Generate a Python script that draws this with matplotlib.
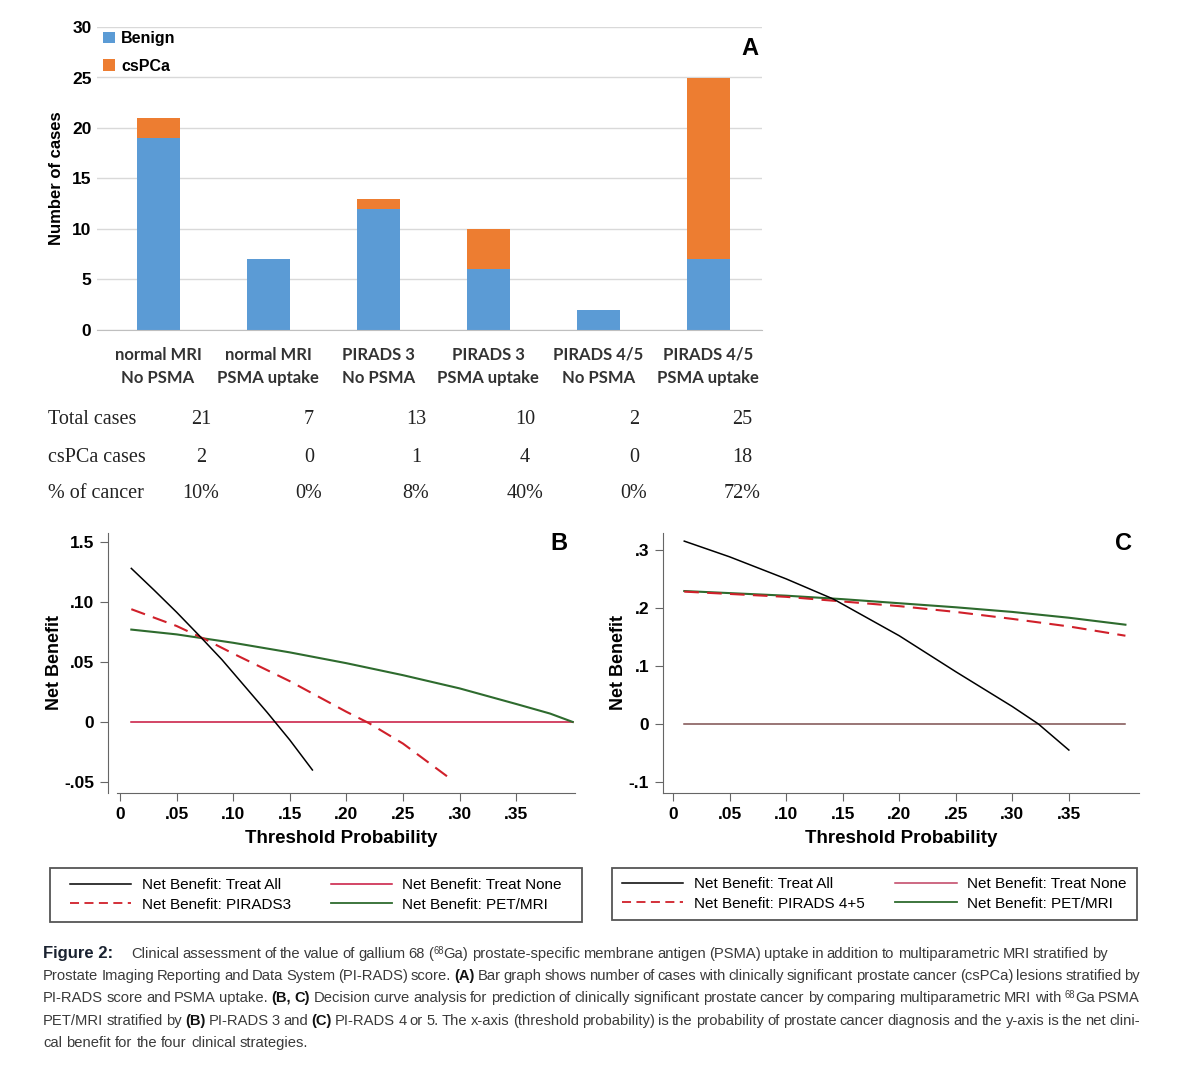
import matplotlib
matplotlib.use('Agg')
import matplotlib.pyplot as plt
from matplotlib.patches import Rectangle
from matplotlib.lines import Line2D
from matplotlib.font_manager import FontProperties

# ---- panel A data ----
categories = ['normal MRI\nNo PSMA', 'normal MRI\nPSMA uptake', 'PIRADS 3\nNo PSMA',
              'PIRADS 3\nPSMA uptake', 'PIRADS 4/5\nNo PSMA', 'PIRADS 4/5\nPSMA uptake']
benign = [19, 7, 12, 6, 2, 7]
cspca = [2, 0, 1, 4, 0, 18]

# ---- panel B data (PI-RADS 3) ----
b_all_x = [0.01, 0.03, 0.05, 0.07, 0.09, 0.11, 0.13, 0.15, 0.17]
b_all_y = [0.128, 0.110, 0.0915, 0.072, 0.052, 0.030, 0.008, -0.015, -0.040]
b_none_x = [0.01, 0.40]
b_none_y = [0.0, 0.0]
b_pirads_x = [0.01, 0.05, 0.075, 0.10, 0.15, 0.20, 0.22, 0.25, 0.29]
b_pirads_y = [0.094, 0.080, 0.069, 0.057, 0.034, 0.0085, -0.001, -0.018, -0.046]
b_pet_x = [0.01, 0.05, 0.10, 0.15, 0.20, 0.25, 0.30, 0.35, 0.38, 0.40]
b_pet_y = [0.077, 0.073, 0.066, 0.058, 0.049, 0.039, 0.028, 0.015, 0.007, 0.0]

# ---- panel C data (PI-RADS 4/5) ----
c_all_x = [0.01, 0.05, 0.10, 0.142, 0.20, 0.25, 0.30, 0.323, 0.35]
c_all_y = [0.315, 0.288, 0.250, 0.215, 0.152, 0.090, 0.030, 0.0, -0.045]
c_none_x = [0.01, 0.40]
c_none_y = [0.0, 0.0]
c_pirads_x = [0.01, 0.10, 0.15, 0.20, 0.25, 0.30, 0.35, 0.40]
c_pirads_y = [0.228, 0.219, 0.211, 0.203, 0.193, 0.181, 0.168, 0.152]
c_pet_x = [0.01, 0.10, 0.15, 0.20, 0.25, 0.30, 0.35, 0.40]
c_pet_y = [0.229, 0.221, 0.215, 0.208, 0.201, 0.193, 0.183, 0.171]

W, H = 1178, 1070
fig = plt.figure(figsize=(W / 100, H / 100), dpi=100)
fig.patch.set_facecolor('white')


def fx(px):
    return px / W


def fy(py):
    return 1 - py / H


BOLD = ['Liberation Sans', 'DejaVu Sans']
SANS = ['Liberation Sans', 'DejaVu Sans']
BLUE = '#5b9bd5'
ORANGE = '#ed7d31'

# ================= panel A =================
axA = fig.add_axes([fx(97), fy(330), fx(762) - fx(97), fy(27) - fy(330)])
pos = list(range(len(categories)))
axA.bar(pos, benign, width=0.39, color=BLUE, label='Benign', zorder=2)
axA.bar(pos, cspca, width=0.39, bottom=benign, color=ORANGE, label='csPCa', zorder=2)
axA.set_xlim(-0.555, 5.49)
axA.set_ylim(0, 30)
axA.set_yticks(range(0, 31, 5))
axA.yaxis.grid(True, color='#d9d9d9', lw=1)
axA.set_axisbelow(True)
for s in ['left', 'right', 'top']:
    axA.spines[s].set_visible(False)
axA.spines['bottom'].set_color('#bfbfbf')
axA.tick_params(axis='y', length=0, pad=4, labelsize=12.5)
axA.tick_params(axis='x', length=0, pad=12)
for lab in axA.get_yticklabels():
    lab.set_fontweight('bold')
    lab.set_family(BOLD)
axA.set_xticks(pos)
axA.set_xticklabels(categories, fontsize=12, fontweight='bold', family=['Lato', 'DejaVu Sans'],
                    color='#333333', linespacing=1.55)
axA.set_ylabel('Number of cases', fontsize=12, fontweight='bold', family=BOLD, labelpad=6)
axA.legend(loc='upper left', bbox_to_anchor=(-0.012, 1.035), frameon=False, handlelength=0.7,
           handleheight=0.7, handletextpad=0.4, labelspacing=0.8,
           prop={'family': BOLD, 'weight': 'bold', 'size': 11.5})
axA.text(0.995, 0.93, 'A', transform=axA.transAxes, fontsize=17, fontweight='bold',
         family=BOLD, ha='right', va='center')

# table under panel A
totals = [b + c for b, c in zip(benign, cspca)]
pct = ['%d%%' % round(100 * c / t) for c, t in zip(cspca, totals)]
rows = [('Total cases', [str(t) for t in totals]),
        ('csPCa cases', [str(c) for c in cspca]),
        ('% of cancer', pct)]
table_y = [419, 457, 494]
col_x = [201, 309, 416, 525, 634, 742]
SERIF = ['Liberation Serif', 'DejaVu Serif']
for (name, vals), yy in zip(rows, table_y):
    fig.text(fx(48), fy(yy), name, fontsize=14.5, family=SERIF,
             va='center', ha='left', color='#222222')
    for v, xx in zip(vals, col_x):
        fig.text(fx(xx), fy(yy), v, fontsize=14.5, family=SERIF,
                 va='center', ha='center', color='#222222')


# ================= decision curves =================
def style_dca(ax, yt, ylabels, xlim, ylim, letter):
    ax.set_xlim(*xlim)
    ax.set_ylim(*ylim)
    ax.spines['top'].set_visible(False)
    ax.spines['right'].set_visible(False)
    ax.spines['left'].set_color('#666666')
    ax.spines['bottom'].set_color('#666666')
    ax.set_xticks([0, 0.05, 0.10, 0.15, 0.20, 0.25, 0.30, 0.35])
    ax.set_xticklabels(['0', '.05', '.10', '.15', '.20', '.25', '.30', '.35'])
    ax.set_yticks(yt)
    ax.set_yticklabels(ylabels)
    ax.tick_params(length=6, color='#666666', labelsize=12.5, pad=4)
    for lab in ax.get_xticklabels() + ax.get_yticklabels():
        lab.set_fontweight('bold')
        lab.set_family(BOLD)
    ax.set_xlabel('Threshold Probability', fontsize=13.5, fontweight='bold', family=BOLD, labelpad=6)
    ax.set_ylabel('Net Benefit', fontsize=13, fontweight='bold', family=BOLD, labelpad=1)
    ax.text(0.985, 0.96, letter, transform=ax.transAxes, fontsize=17, fontweight='bold',
            family=BOLD, ha='right', va='center')


GREEN = '#2e6b2e'
RED = '#d0202a'

axB = fig.add_axes([fx(108), fy(793), fx(575) - fx(108), fy(533) - fy(793)])
axB.plot(b_none_x, b_none_y, color='#c8143c', lw=1.1)
axB.plot(b_pet_x, b_pet_y, color=GREEN, lw=1.5)
axB.plot(b_pirads_x, b_pirads_y, color=RED, lw=1.5, dashes=(7, 4))
axB.plot(b_all_x, b_all_y, color='black', lw=1.1)
style_dca(axB, [-0.05, 0, 0.05, 0.10, 0.15], ['-.05', '0', '.05', '.10', '1.5'],
          (-0.0106, 0.402), (-0.0592, 0.1575), 'B')
axB.spines['bottom'].set_bounds(-0.003, 0.402)

axC = fig.add_axes([fx(663), fy(793), fx(1139) - fx(663), fy(533) - fy(793)])
axC.plot(c_none_x, c_none_y, color='#7d5050', lw=1.1)
axC.plot(c_pet_x, c_pet_y, color=GREEN, lw=1.5)
axC.plot(c_pirads_x, c_pirads_y, color=RED, lw=1.5, dashes=(7, 4))
axC.plot(c_all_x, c_all_y, color='black', lw=1.1)
style_dca(axC, [-0.1, 0, 0.1, 0.2, 0.3], ['-.1', '0', '.1', '.2', '.3'],
          (-0.0088, 0.412), (-0.119, 0.329), 'C')


# legends below B and C: frame drawn separately, entries centred inside
def dca_legend(x0, x1, y0, y1, pirads_label, none_color, colspace):
    fig.patches.append(Rectangle((fx(x0), fy(y1)), fx(x1) - fx(x0), fy(y0) - fy(y1),
                                 transform=fig.transFigure, fill=False,
                                 edgecolor='#555555', lw=1.3))
    handles = [Line2D([], [], color='black', lw=1.1),
               Line2D([], [], color=RED, lw=1.3, dashes=(5, 3)),
               Line2D([], [], color=none_color, lw=1.1),
               Line2D([], [], color=GREEN, lw=1.3)]
    labels = ['Net Benefit: Treat All', pirads_label,
              'Net Benefit: Treat None', 'Net Benefit: PET/MRI']
    fig.legend(handles, labels, ncol=2, loc='center',
               bbox_to_anchor=((fx(x0) + fx(x1)) / 2, (fy(y0) + fy(y1)) / 2),
               frameon=False, handlelength=4.0, handletextpad=0.7,
               labelspacing=0.35, columnspacing=colspace,
               prop={'family': SANS, 'size': 11})


dca_legend(50, 582, 868, 922, 'Net Benefit: PIRADS3', '#c8143c', 2.6)
dca_legend(612, 1137, 868, 920, 'Net Benefit: PIRADS 4+5', '#c04060', 2.0)

# ================= caption =================
renderer = fig.canvas.get_renderer()
CAP = 10.6


def props(style):
    return FontProperties(family=SANS, size=CAP * 0.65 if style == 's' else CAP,
                          weight='bold' if style == 'b' else 'normal')


def width(txt, style):
    p = props(style)
    w1 = renderer.get_text_width_height_descent(txt + '|', p, False)[0]
    w0 = renderer.get_text_width_height_descent('|', p, False)[0]
    return w1 - w0


def parse(line):
    words = []
    style = 'n'
    cur = []
    buf = ''
    for ch in line:
        if ch in '*^':
            if buf:
                cur.append((buf, style))
                buf = ''
            new = 'b' if ch == '*' else 's'
            style = 'n' if style == new else new
        elif ch == ' ':
            if buf:
                cur.append((buf, style))
                buf = ''
            if cur:
                words.append(cur)
                cur = []
        else:
            buf += ch
    if buf:
        cur.append((buf, style))
    if cur:
        words.append(cur)
    return words


def rich_line(x0, y, line, x1=None):
    words = parse(line)
    ww = [sum(width(t, s) for t, s in w) for w in words]
    sp = width(' ', 'n')
    if x1 is not None and len(words) > 1:
        sp = (x1 - x0 - sum(ww)) / (len(words) - 1)
    x = x0
    for w, wlen in zip(words, ww):
        for t, s in w:
            dy = -4 if s == 's' else 0
            fig.text(fx(x), fy(y + dy), t, fontproperties=props(s), va='baseline',
                     ha='left', color='#111111' if s == 'b' else '#3a3a3a')
            x += width(t, s)
        x += sp


cap_y = [958, 980, 1002, 1025, 1047]
fig.text(fx(43), fy(cap_y[0]), 'Figure 2:', fontsize=12, fontweight='bold',
         family=SANS, va='baseline', color='#1a2230')
rich_line(131, cap_y[0], 'Clinical assessment of the value of gallium 68 (^68^Ga) prostate-specific '
          'membrane antigen (PSMA) uptake in addition to multiparametric MRI stratified by', 1108)
rich_line(43, cap_y[1], 'Prostate Imaging Reporting and Data System (PI-RADS) score. *(A)* Bar graph '
          'shows number of cases with clinically significant prostate cancer (csPCa) lesions '
          'stratified by', 1140)
rich_line(43, cap_y[2], 'PI-RADS score and PSMA uptake. *(B, C)* Decision curve analysis for prediction '
          'of clinically significant prostate cancer by comparing multiparametric MRI with '
          '^68^Ga PSMA', 1140)
rich_line(43, cap_y[3], 'PET/MRI stratified by *(B)* PI-RADS 3 and *(C)* PI-RADS 4 or 5. The x-axis '
          '(threshold probability) is the probability of prostate cancer diagnosis and the y-axis '
          'is the net clini-', 1140)
rich_line(43, cap_y[4], 'cal benefit for the four clinical strategies.')

fig.savefig('out.png', dpi=100)
